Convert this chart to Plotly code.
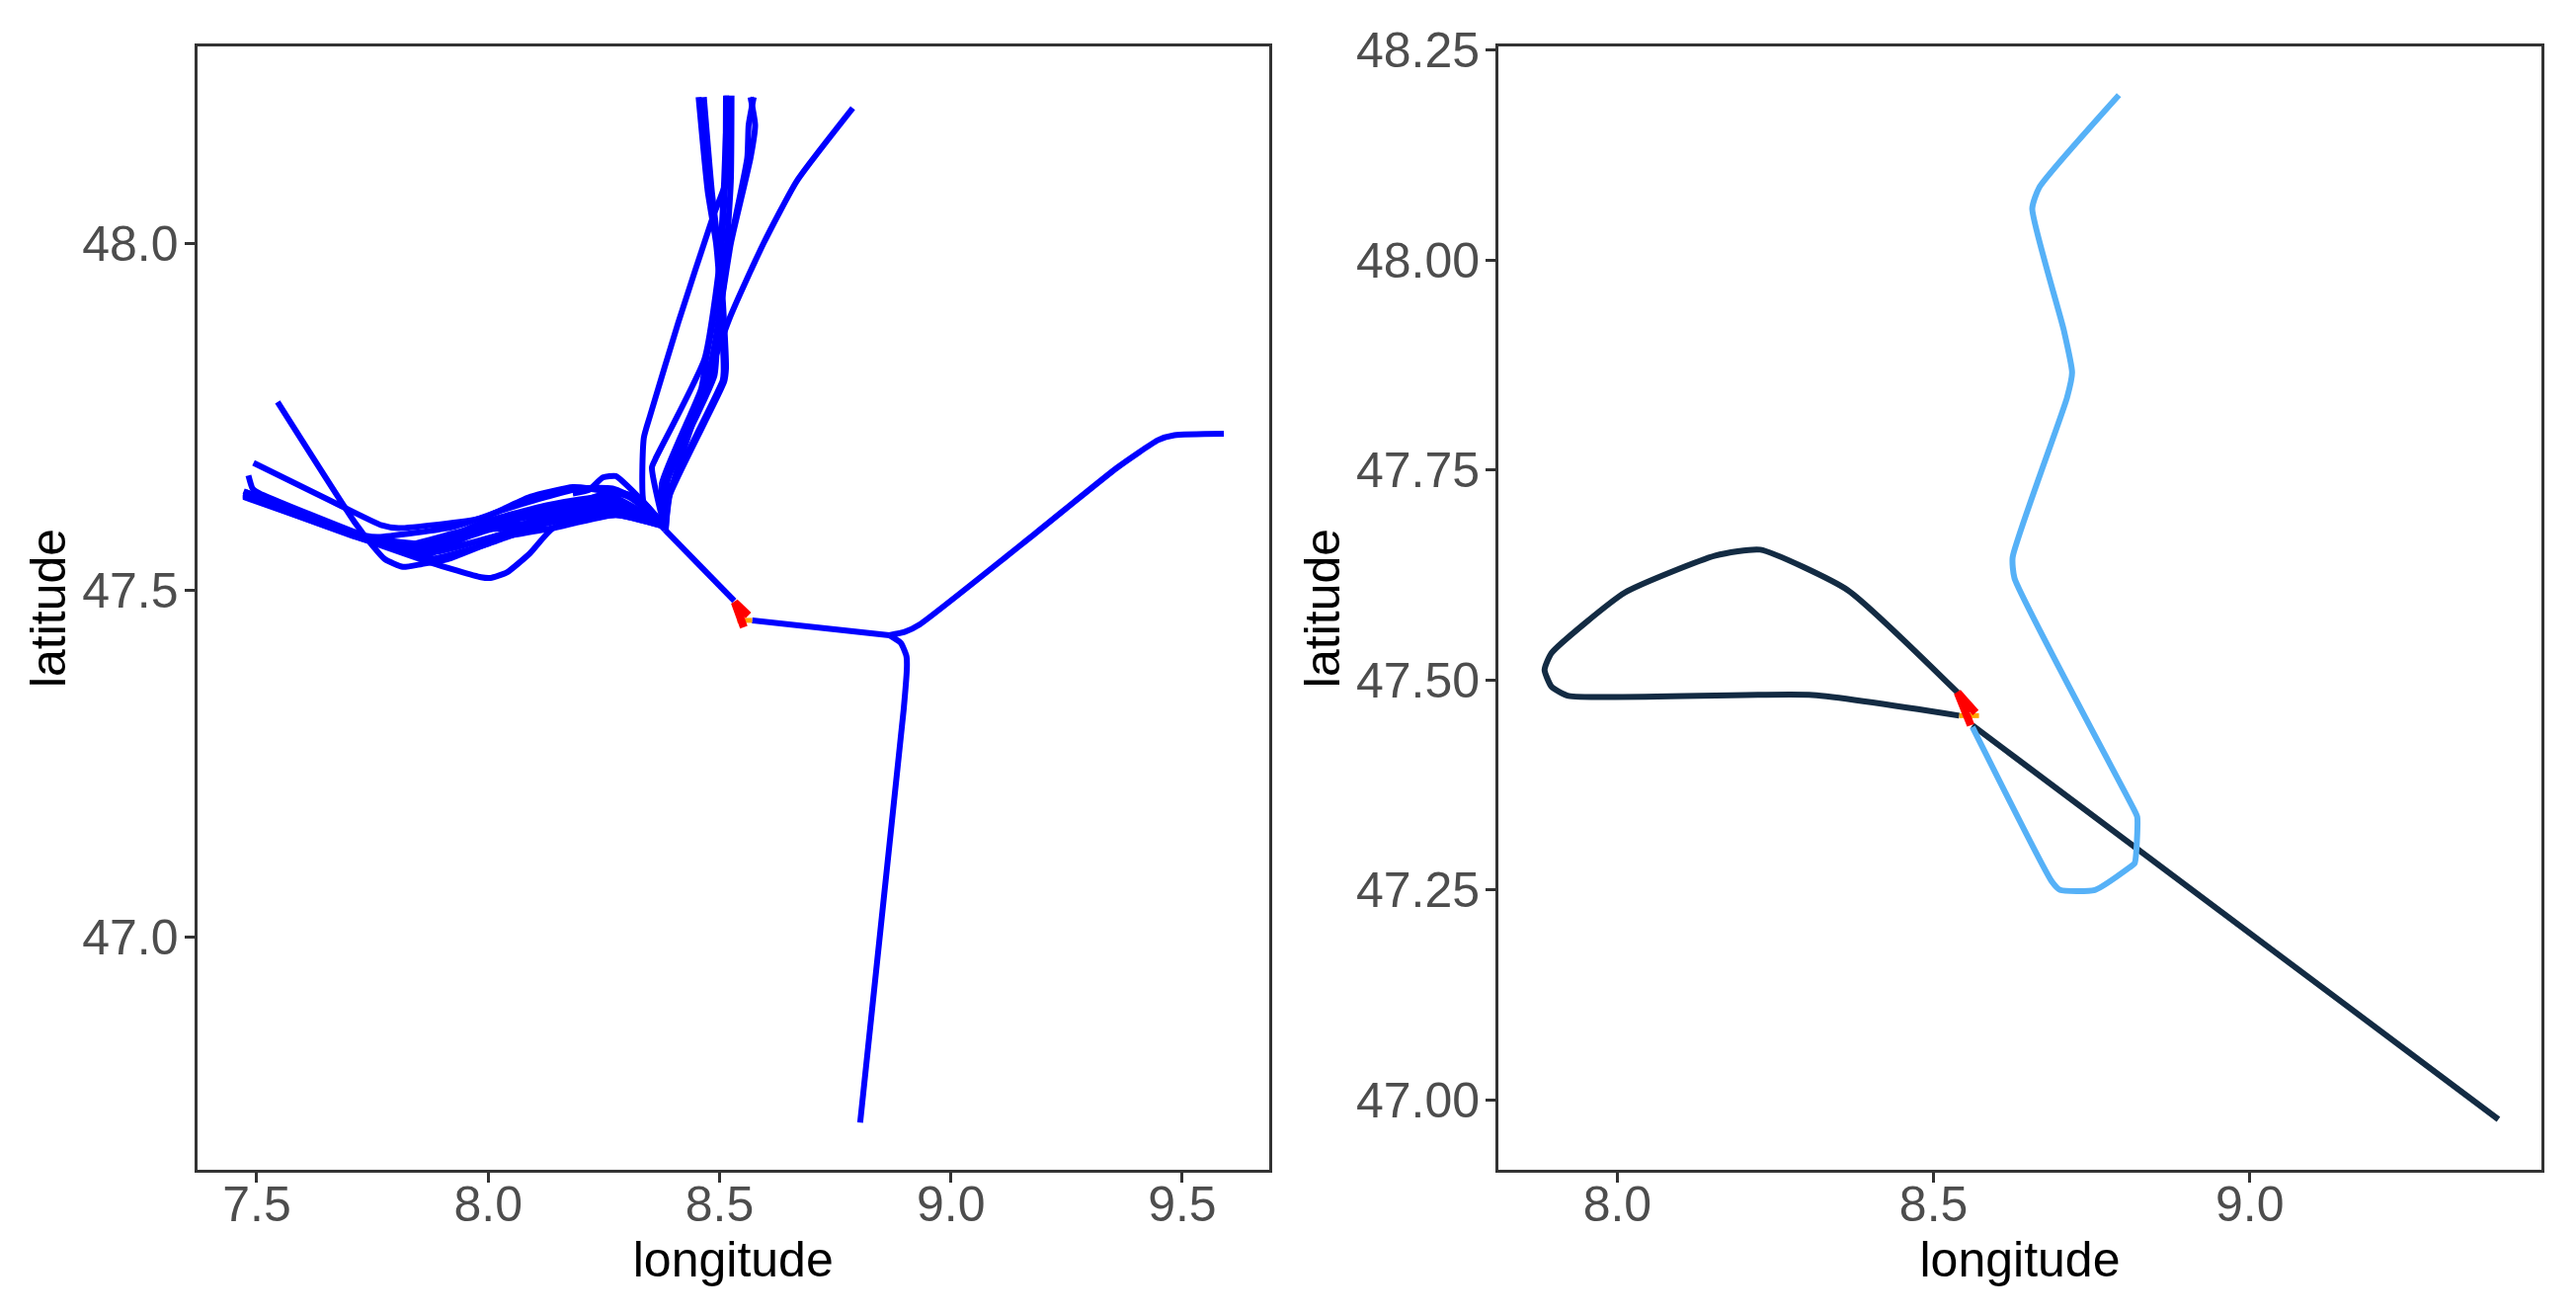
import plotly.graph_objects as go

# -----------------------------
# Style
# -----------------------------
BLUE = "#0000FF"
RED = "#FF0000"
ORANGE = "#FFA500"
NAVY = "#132B43"
SKY = "#56B1F7"
BORDER = "#333333"
TICK_TEXT = "#4D4D4D"
FONT = "Liberation Sans"

W, H = 2608, 1331

# -----------------------------
# Left panel: ticks
# -----------------------------
LEFT_XTICKS = [7.5, 8.0, 8.5, 9.0, 9.5]
LEFT_YTICKS = [47.0, 47.5, 48.0]
LEFT_XRANGE = [7.371, 9.688]
LEFT_YRANGE = [46.664, 48.285]

# shared departure / arrival segments
TRUNK_LON = [8.3823, 8.532]
TRUNK_LAT = [47.5874, 47.485]
RUNWAY_LON = [8.5705, 8.867]
RUNWAY_LAT = [47.4568, 47.4354]

# south and east
SOUTH_LON = [8.867, 8.892, 8.904, 8.905, 8.898, 8.804]
SOUTH_LAT = [47.4354, 47.424, 47.405, 47.39, 47.328, 46.732]
EAST_LON = [8.867, 8.90, 8.933, 9.182, 9.359, 9.448, 9.483, 9.590]
EAST_LAT = [47.4354, 47.44, 47.451, 47.582, 47.677, 47.717, 47.724, 47.726]

# north routes
N1_LON = [8.4548, 8.4745, 8.4927, 8.5029, 8.509, 8.507, 8.388, 8.3823]
N1_LAT = [48.2118, 48.0765, 48.0005, 47.910, 47.815, 47.803, 47.635, 47.5874]
N2_LON = [8.4662, 8.4834, 8.5, 8.51, 8.514, 8.51, 8.391, 8.384]
N2_LAT = [48.2118, 48.0765, 47.9815, 47.8865, 47.820, 47.801, 47.635, 47.5874]
N3_LON = [8.514, 8.5125, 8.503, 8.4855, 8.4713, 8.4605, 8.3755, 8.3823]
N3_LAT = [48.214, 48.0907, 47.9815, 47.8865, 47.8343, 47.791, 47.654, 47.5874]
N4_LON = [8.526, 8.5245, 8.514, 8.496, 8.489, 8.381, 8.3823]
N4_LAT = [48.214, 48.0907, 47.9815, 47.877, 47.810, 47.649, 47.5874]
N5_LON = [8.567, 8.577, 8.567, 8.5245, 8.503, 8.4785, 8.439, 8.379, 8.3823]
N5_LAT = [48.2118, 48.1714, 48.124, 48.0005, 47.910, 47.815, 47.739, 47.649, 47.5874]
N6_LON = [8.574, 8.563, 8.56, 8.5176, 8.493, 8.4675, 8.388, 8.3823]
N6_LAT = [48.2118, 48.1714, 48.124, 47.9815, 47.863, 47.791, 47.6586, 47.5874]
N7_LON = [8.3823, 8.3365, 8.3365, 8.3506, 8.4108, 8.4855, 8.514, 8.514]
N7_LAT = [47.5874, 47.625, 47.7203, 47.7536, 47.8865, 48.0385, 48.0907, 48.214]
N8_LON = [8.384, 8.372, 8.354, 8.3614, 8.4678, 8.5, 8.51, 8.517]
N8_LAT = [47.5874, 47.616, 47.6776, 47.6895, 47.8343, 47.972, 48.09, 48.214]
NE_LON = [8.788, 8.667, 8.595, 8.521, 8.393, 8.384]
NE_LAT = [48.1961, 48.0907, 48.0005, 47.8913, 47.6396, 47.592]

# west routes
W1_LON = [7.493, 7.6851, 7.77, 7.8064, 7.9845, 8.091, 8.183, 8.218, 8.304, 8.3825]
W1_LAT = [47.684, 47.621, 47.594, 47.590, 47.604, 47.635, 47.649, 47.647, 47.635, 47.592]
W2_LON = [7.545, 7.713, 7.7485, 7.777, 7.816, 7.856, 7.912, 8.0406, 8.1406, 8.2759, 8.3825]
W2_LAT = [47.772, 47.597, 47.566, 47.545, 47.534, 47.538, 47.545, 47.578, 47.590, 47.609, 47.592]
W3_LON = [7.4716, 7.7346, 7.877, 7.9845, 8.0052, 8.0406, 8.091, 8.1406, 8.2759, 8.3825]
W3_LAT = [47.635, 47.573, 47.540, 47.519, 47.518, 47.526, 47.554, 47.590, 47.609, 47.592]
W4_LON = [7.4716, 7.7346, 7.763, 7.9275, 8.0406, 8.1264, 8.197, 8.269, 8.325, 8.3825]
W4_LAT = [47.643, 47.579, 47.577, 47.592, 47.618, 47.635, 47.647, 47.647, 47.630, 47.592]
W5_LON = [7.4716, 7.7417, 7.8135, 7.9275, 8.0406, 8.1264, 8.197, 8.269, 8.325, 8.3825]
W5_LAT = [47.640, 47.573, 47.564, 47.583, 47.602, 47.616, 47.628, 47.642, 47.634, 47.592]
W6_LON = [7.4716, 7.7286, 7.87, 7.9845, 8.0406, 8.1264, 8.269, 8.3825]
W6_LAT = [47.637, 47.574, 47.552, 47.587, 47.590, 47.604, 47.625, 47.592]
W7_LON = [7.476, 7.7346, 7.8135, 7.89, 7.9845, 8.0406, 8.1264, 8.269, 8.3825]
W7_LAT = [47.642, 47.576, 47.558, 47.556, 47.572, 47.584, 47.610, 47.632, 47.592]
W8_LON = [7.482, 7.491, 7.506, 7.7346, 7.87, 7.9845, 8.1264, 8.269, 8.3825]
W8_LAT = [47.666, 47.647, 47.640, 47.578, 47.545, 47.564, 47.597, 47.618, 47.592]
W9_LON = [7.4716, 7.7346, 7.87, 7.9845, 8.1264, 8.197, 8.269, 8.3825]
W9_LAT = [47.639, 47.575, 47.561, 47.592, 47.611, 47.621, 47.630, 47.592]
W10_LON = [7.4716, 7.7346, 7.87, 7.9845, 8.1264, 8.269, 8.3825]
W10_LAT = [47.641, 47.577, 47.566, 47.597, 47.623, 47.635, 47.592]
W11_LON = [7.4716, 7.7346, 7.87, 7.9275, 8.0406, 8.1264, 8.269, 8.3825]
W11_LAT = [47.638, 47.575, 47.559, 47.571, 47.595, 47.597, 47.616, 47.592]
W12_LON = [7.4716, 7.7346, 7.9275, 8.0406, 8.1264, 8.269, 8.3825]
W12_LAT = [47.636, 47.577, 47.564, 47.583, 47.599, 47.621, 47.592]
LOOP_LON = [8.183, 8.218, 8.248, 8.276, 8.304, 8.339, 8.3825]
LOOP_LAT = [47.640, 47.645, 47.663, 47.665, 47.649, 47.625, 47.592]

LEFT_BLUE = [
    (RUNWAY_LON, RUNWAY_LAT), (SOUTH_LON, SOUTH_LAT), (EAST_LON, EAST_LAT),
    (N1_LON, N1_LAT), (N2_LON, N2_LAT), (N3_LON, N3_LAT), (N4_LON, N4_LAT), (N5_LON, N5_LAT),
    (N6_LON, N6_LAT), (N7_LON, N7_LAT), (N8_LON, N8_LAT), (NE_LON, NE_LAT),
    (W1_LON, W1_LAT), (W2_LON, W2_LAT), (W3_LON, W3_LAT), (W4_LON, W4_LAT), (W5_LON, W5_LAT),
    (W6_LON, W6_LAT), (W7_LON, W7_LAT), (W8_LON, W8_LAT), (W9_LON, W9_LAT), (W10_LON, W10_LAT),
    (W11_LON, W11_LAT), (W12_LON, W12_LAT), (LOOP_LON, LOOP_LAT),
]

LEFT_ORANGE_LON = [8.5387, 8.5705]
LEFT_ORANGE_LAT = [47.4568, 47.4568]
LEFT_RED_LON = [8.5625, 8.533, 8.5525]
LEFT_RED_LAT = [47.464, 47.483, 47.447]

# -----------------------------
# Right panel
# -----------------------------
RIGHT_XTICKS = [8.0, 8.5, 9.0]
RIGHT_YTICKS = [47.0, 47.25, 47.5, 47.75, 48.0, 48.25]
RIGHT_XRANGE = [7.812, 9.461]
RIGHT_YRANGE = [46.917, 48.254]

SE_LON = [9.393, 8.5614]
SE_LAT = [46.977, 47.446]
DARK_LOOP_LON = [8.5406, 8.309, 7.923, 7.896, 7.885, 7.896, 8.012, 8.155, 8.226, 8.364, 8.538]
DARK_LOOP_LAT = [47.4575, 47.482, 47.481, 47.492, 47.512, 47.532, 47.604, 47.648, 47.655, 47.607, 47.485]
SKY_LON = [8.793, 8.667, 8.656, 8.706, 8.719, 8.711, 8.625, 8.628, 8.816, 8.822, 8.818, 8.810, 8.755, 8.700, 8.687, 8.5614]
SKY_LAT = [48.196, 48.086, 48.061, 47.916, 47.866, 47.836, 47.646, 47.621, 47.347, 47.337, 47.282, 47.277, 47.250, 47.250, 47.260, 47.444]

RIGHT_ORANGE_LON = [8.5406, 8.5718]
RIGHT_ORANGE_LAT = [47.4575, 47.4575]
RIGHT_RED_LON = [8.5666, 8.538, 8.5588]
RIGHT_RED_LAT = [47.461, 47.485, 47.446]


def add_path(fig, lon, lat, color, width, col, shape="linear"):
    fig.add_trace(
        go.Scatter(
            x=lon,
            y=lat,
            mode="lines",
            line=dict(color=color, width=width, shape=shape, smoothing=0.5),
            showlegend=False,
            hoverinfo="skip",
            xaxis="x" if col == 1 else "x2",
            yaxis="y" if col == 1 else "y2",
        )
    )


def axis_style(title, tickvals, tickformat, rng, domain, standoff, label_shift):
    return dict(
        title=dict(text=title, font=dict(family=FONT, size=50, color="black"), standoff=standoff),
        automargin=False,
        tickvals=tickvals,
        tickformat=tickformat,
        tickfont=dict(family=FONT, size=50, color=TICK_TEXT),
        ticklabelstandoff=label_shift,
        range=rng,
        domain=domain,
        showgrid=False,
        zeroline=False,
        showline=True,
        mirror=True,
        linecolor=BORDER,
        linewidth=3,
        ticks="outside",
        ticklen=10,
        tickwidth=3,
        tickcolor=BORDER,
    )


fig = go.Figure()

add_path(fig, TRUNK_LON, TRUNK_LAT, BLUE, 6, 1)
for lon, lat in LEFT_BLUE:
    add_path(fig, lon, lat, BLUE, 6, 1, "spline")
add_path(fig, LEFT_ORANGE_LON, LEFT_ORANGE_LAT, ORANGE, 5, 1)
add_path(fig, LEFT_RED_LON, LEFT_RED_LAT, RED, 8, 1)

add_path(fig, SE_LON, SE_LAT, NAVY, 6, 2)
add_path(fig, DARK_LOOP_LON, DARK_LOOP_LAT, NAVY, 6, 2, "spline")
add_path(fig, SKY_LON, SKY_LAT, SKY, 6, 2, "spline")
add_path(fig, RIGHT_ORANGE_LON, RIGHT_ORANGE_LAT, ORANGE, 5, 2)
add_path(fig, RIGHT_RED_LON, RIGHT_RED_LAT, RED, 8, 2)

y_domain = [1 - 1184 / H, 1 - 47 / H]
fig.update_layout(
    width=W,
    height=H,
    margin=dict(l=0, r=0, t=0, b=0),
    plot_bgcolor="white",
    paper_bgcolor="white",
    font=dict(family=FONT),
    showlegend=False,
    xaxis=axis_style("longitude", LEFT_XTICKS, ".1f", LEFT_XRANGE, [199.5 / W, 1285 / W], 8, -21),
    yaxis=axis_style("latitude", LEFT_YTICKS, ".1f", LEFT_YRANGE, y_domain, 1, -4),
    xaxis2=dict(axis_style("longitude", RIGHT_XTICKS, ".1f", RIGHT_XRANGE, [1517 / W, 2573 / W], 8, -21), anchor="y2"),
    yaxis2=dict(axis_style("latitude", RIGHT_YTICKS, ".2f", RIGHT_YRANGE, y_domain, 1, -4), anchor="x2"),
)

fig.write_html("out.html", config={"displayModeBar": False}, post_script="document.body.style.margin='0';")
